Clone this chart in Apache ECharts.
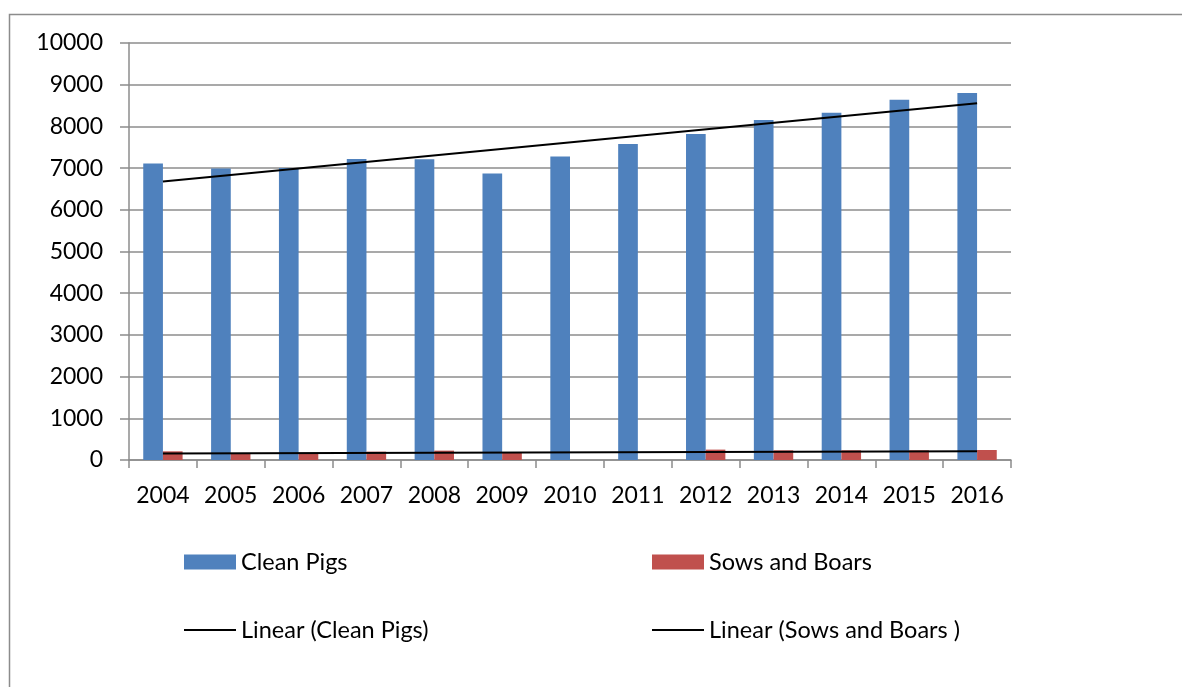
<!DOCTYPE html>
<html>
<head>
<meta charset="utf-8">
<script src="https://cdn.jsdelivr.net/npm/echarts@6/dist/echarts.min.js"></script>
<style>
html,body{margin:0;padding:0;background:#fff;}
#chart{width:1182px;height:687px;}
</style>
</head>
<body>
<div id="chart"></div>
<script>
const categories = ['2004','2005','2006','2007','2008','2009','2010','2011','2012','2013','2014','2015','2016'];
const cleanPigs = [7110, 6990, 7000, 7220, 7210, 6870, 7280, 7580, 7820, 8155, 8330, 8640, 8800];
const sowsBoars = [208, 160, 160, 200, 225, 184, 0, 0, 249, 232, 232, 232, 240];
// trend line end values (first and last category)
const cleanTrendEnds = [6679, 8554];
const sowsTrendEnds = [158, 207];
const yTicks = [0, 10000, 1000];

function trendSeries(ends) {
  return categories.map((c, i) => i === 0 ? ends[0] : (i === categories.length - 1 ? ends[1] : null));
}

const FONT = 'Lato, "Open Sans", sans-serif';
const chart = echarts.init(document.getElementById('chart'));
const legendText = {fontFamily: FONT, fontSize: 23.5, color: '#000'};
function barLegend(name, left, top) {
  return {
    data: [name], left: left, top: top, orient: 'horizontal',
    itemWidth: 52, itemHeight: 15, itemGap: 0, padding: 0, icon: 'rect',
    textStyle: legendText, selectedMode: false
  };
}
function lineLegend(name, left, top) {
  return {
    data: [name], left: left, top: top, orient: 'horizontal',
    itemWidth: 52, itemHeight: 2, itemGap: 0, padding: 0, icon: 'rect',
    itemStyle: {color: '#000'},
    textStyle: legendText, selectedMode: false
  };
}
chart.setOption({
  animation: false,
  backgroundColor: '#fff',
  graphic: [{
    type: 'rect', shape: {x: 9.5, y: 14.5, width: 1400, height: 1000},
    style: {fill: null, stroke: '#8c8c8c', lineWidth: 1.5}, silent: true, z: -1
  }],
  grid: {left: 129, right: 171, top: 43, bottom: 227, containLabel: false},
  legend: [
    barLegend('Clean Pigs', 184, 550),
    barLegend('Sows and Boars', 652, 550),
    lineLegend('Linear (Clean Pigs)', 184, 618),
    lineLegend('Linear (Sows and Boars )', 652, 618)
  ],
  xAxis: {
    type: 'category', data: categories,
    axisLine: {lineStyle: {color: '#8c8c8c', width: 1.5}},
    axisTick: {show: true, length: 8, lineStyle: {color: '#8c8c8c', width: 1.5}},
    axisLabel: {color: '#000', fontFamily: FONT, fontSize: 23, margin: 24, interval: 0},
    splitLine: {show: false}
  },
  yAxis: {
    type: 'value', min: yTicks[0], max: yTicks[1], interval: yTicks[2],
    axisLine: {show: true, lineStyle: {color: '#8c8c8c', width: 1.5}},
    axisTick: {show: true, length: 9, lineStyle: {color: '#8c8c8c', width: 1.5}},
    axisLabel: {color: '#000', fontFamily: FONT, fontSize: 23, margin: 26, formatter: v => String(v)},
    splitLine: {show: true, lineStyle: {color: '#8c8c8c', width: 1.5}}
  },
  series: [
    {name: 'Clean Pigs', type: 'bar', data: cleanPigs, barGap: '0%', barCategoryGap: '42%',
     itemStyle: {color: '#4F81BD'}},
    {name: 'Sows and Boars', type: 'bar', data: sowsBoars, barGap: '0%', barCategoryGap: '42%',
     itemStyle: {color: '#C0504D'}},
    {name: 'Linear (Clean Pigs)', type: 'line', data: trendSeries(cleanTrendEnds), connectNulls: true,
     symbol: 'none', lineStyle: {color: '#000', width: 2}, itemStyle: {color: '#000'}, z: 5},
    {name: 'Linear (Sows and Boars )', type: 'line', data: trendSeries(sowsTrendEnds), connectNulls: true,
     symbol: 'none', lineStyle: {color: '#000', width: 2}, itemStyle: {color: '#000'}, z: 5}
  ]
});
</script>
</body>
</html>
